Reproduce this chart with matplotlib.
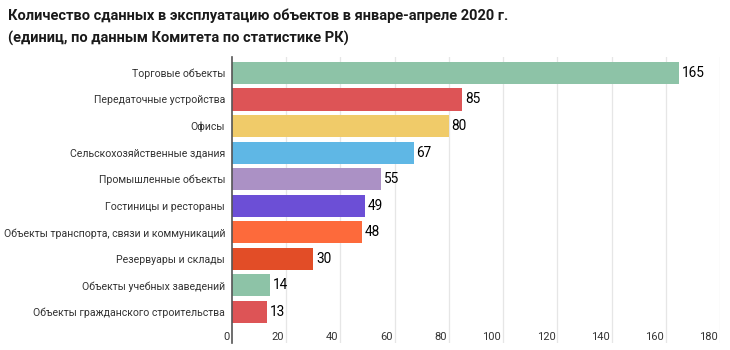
import matplotlib
matplotlib.use("Agg")
import matplotlib.pyplot as plt
from matplotlib.transforms import blended_transform_factory, offset_copy

plt.rcParams['font.family'] = ['Roboto', 'DejaVu Sans']

categories = [
    "Торговые объекты",
    "Передаточные устройства",
    "Офисы",
    "Сельскохозяйственные здания",
    "Промышленные объекты",
    "Гостиницы и рестораны",
    "Объекты транспорта, связи и коммуникаций",
    "Резервуары и склады",
    "Объекты учебных заведений",
    "Объекты гражданского строительства",
]
values = [165, 85, 80, 67, 55, 49, 48, 30, 14, 13]
colors = ["#8dc3a7", "#dd5456", "#f0cb69", "#5fb7e5", "#ab91c5",
          "#6c4fd6", "#fd6a3b", "#e24d27", "#8dc3a7", "#dd5456"]
xticks = [0, 20, 40, 60, 80, 100, 120, 140, 160, 180]
title = ("Количество сданных в эксплуатацию объектов в январе-апреле 2020 г.\n"
         "(единиц, по данным Комитета по статистике РК)")

W, H = 730, 350
fig = plt.figure(figsize=(W / 100, H / 100), dpi=100)
ax = fig.add_axes([232 / W, 1 - 343 / H, (720 - 232) / W, (343 - 57) / H])

y = list(range(len(categories)))
ax.barh(y, values, height=0.83, color=colors, zorder=2)
ax.set_xlim(0, 180)
ax.set_ylim(10.17, -0.6)

for xt in xticks[1:]:
    ax.axvline(xt, color="#e6e6e6", lw=0.9, zorder=0)
for s in ["top", "right", "bottom"]:
    ax.spines[s].set_visible(False)
ax.spines["left"].set_color("#555555")
ax.spines["left"].set_linewidth(1.2)
ax.spines["left"].set_zorder(3)

ax.set_xticks([])
ax.set_yticks(y)
ax.set_yticklabels(categories, fontsize=7.6, color="#333333")
ax.tick_params(axis="y", length=0, pad=5)

trans = blended_transform_factory(ax.transData, ax.transAxes)
for xt in xticks:
    ax.text(xt, 0.022, str(xt), transform=offset_copy(trans, fig=fig, x=-2, y=0, units="dots"),
            ha="right", va="center", fontsize=8, color="#333333")

for yi, v in zip(y, values):
    ax.annotate(str(v), (v, yi), xytext=(2, 0), textcoords="offset points",
                ha="left", va="center", fontsize=9.8, color="#000000", fontweight="normal")

fig.text(8 / W, 1 - 27 / H, title, ha="left", va="center", fontsize=10.5,
         fontweight="bold", color="#1a1a1a", linespacing=1.65)

fig.savefig("out.png", dpi=100)
